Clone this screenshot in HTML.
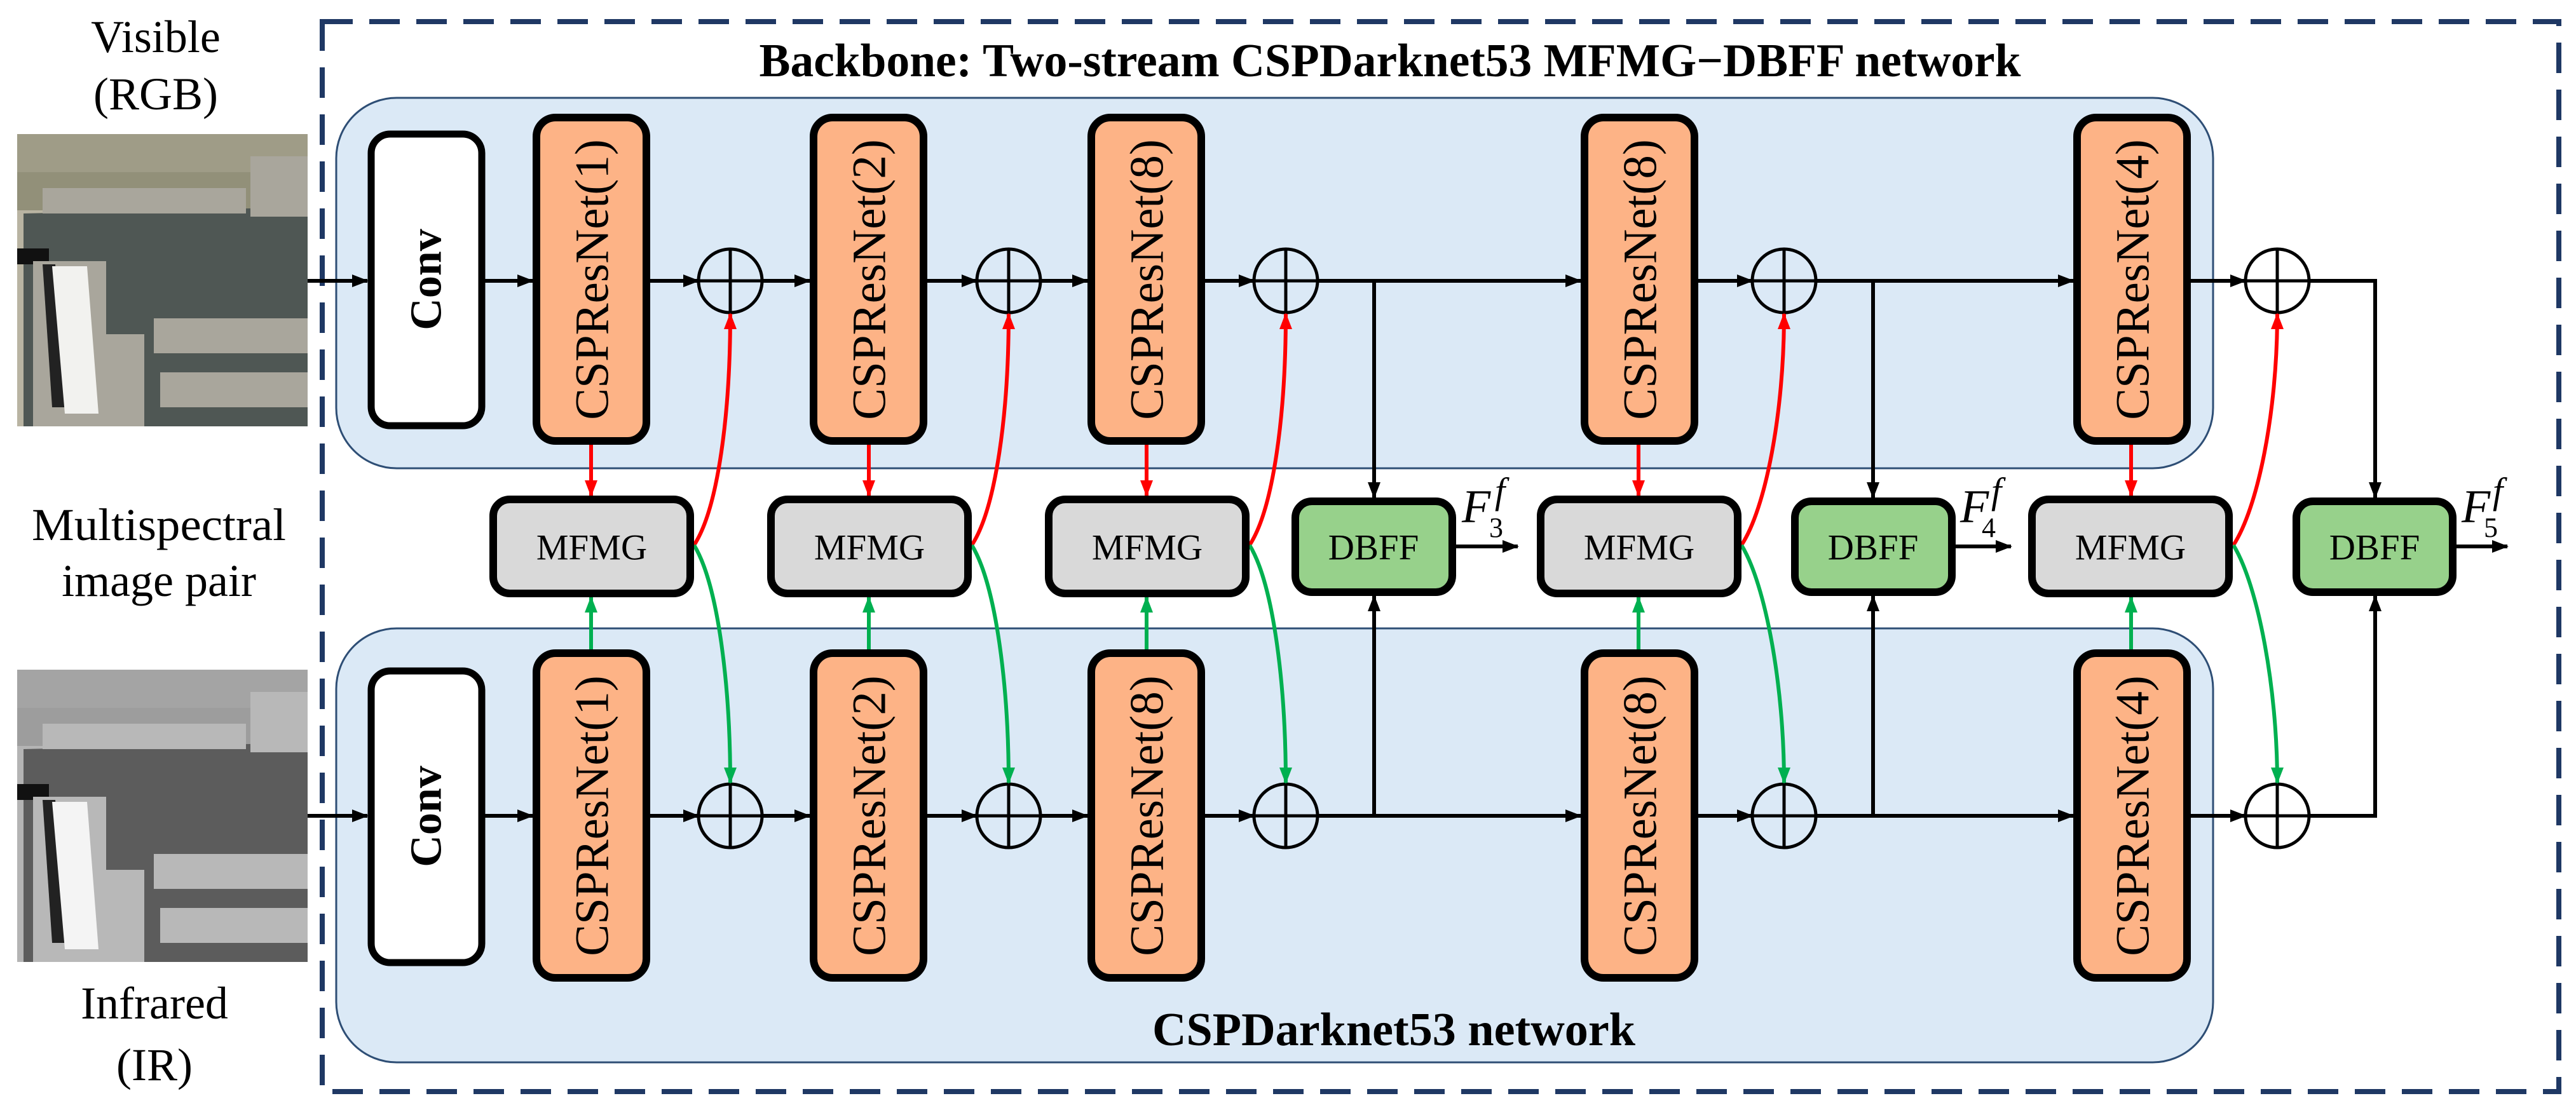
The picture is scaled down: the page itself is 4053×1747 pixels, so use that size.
<!DOCTYPE html>
<html><head><meta charset="utf-8"><style>html,body{margin:0;padding:0;background:#fff}svg{display:block}svg text{font-family:"Liberation Serif","DejaVu Serif",serif}</style></head>
<body>
<svg xmlns="http://www.w3.org/2000/svg" width="4053" height="1747" viewBox="0 0 4053 1747">
<defs>
<marker id="ak" markerUnits="userSpaceOnUse" markerWidth="26" markerHeight="24" refX="24" refY="12" orient="auto"><path d="M0,2 L26,12 L0,22 Z" fill="#000"/></marker>
<marker id="ar" markerUnits="userSpaceOnUse" markerWidth="26" markerHeight="24" refX="24" refY="12" orient="auto"><path d="M0,2 L26,12 L0,22 Z" fill="#ff0000"/></marker>
<marker id="ag" markerUnits="userSpaceOnUse" markerWidth="26" markerHeight="24" refX="24" refY="12" orient="auto"><path d="M0,2 L26,12 L0,22 Z" fill="#00b050"/></marker>
<g id="aerial">
<rect x="0" y="0" width="457" height="460" fill="var(--l)"/>
<rect x="0" y="0" width="457" height="60" fill="var(--v)" opacity="0.6"/>
<rect x="0" y="60" width="457" height="60" fill="var(--v)" opacity="0.9"/>
<polygon points="10,125 457,115 457,460 10,460" fill="var(--d)"/>
<rect x="367" y="35" width="90" height="95" fill="var(--s)"/>
<rect x="40" y="85" width="320" height="40" fill="var(--s)"/>
<rect x="0" y="180" width="50" height="25" fill="#111"/>
<rect x="25" y="200" width="115" height="260" fill="var(--s)"/>
<polygon points="40,205 60,205 75,430 55,430" fill="#222"/>
<polygon points="55,208 110,208 128,440 75,440" fill="var(--w)"/>
<rect x="130" y="315" width="70" height="145" fill="var(--s)"/>
<rect x="215" y="290" width="242" height="55" fill="var(--s)"/>
<rect x="225" y="375" width="232" height="55" fill="var(--s)"/>
</g>
</defs>

<g transform="translate(27,211)" style="--l:#b9b4a2;--v:#8e8c74;--d:#4f5754;--s:#a9a69c;--w:#f2f2ef"><use href="#aerial"/></g>
<g transform="translate(27,1054)" style="--l:#b4b4b4;--v:#9a9a9a;--d:#5c5c5c;--s:#b8b8b8;--w:#f4f4f4"><use href="#aerial"/></g>

<g font-size="72" text-anchor="middle" fill="#000">
<text x="245" y="82">Visible</text>
<text x="245" y="172">(RGB)</text>
<text x="250" y="850" textLength="400" lengthAdjust="spacingAndGlyphs">Multispectral</text>
<text x="250" y="938">image pair</text>
<text x="243" y="1603">Infrared</text>
<text x="243" y="1700">(IR)</text>
</g>

<rect x="507" y="34" width="3519" height="1684" fill="none" stroke="#1f3864" stroke-width="8" stroke-dasharray="48 26"/>

<rect x="529" y="154" width="2953" height="583" rx="95" fill="#dbe9f6" stroke="#2e4e75" stroke-width="3"/>
<rect x="529" y="989" width="2953" height="683" rx="95" fill="#dbe9f6" stroke="#2e4e75" stroke-width="3"/>

<text x="2187" y="120" font-size="74" font-weight="bold" text-anchor="middle" textLength="1985" lengthAdjust="spacingAndGlyphs">Backbone: Two-stream CSPDarknet53 MFMG−DBFF network</text>
<text x="2193" y="1645" font-size="74" font-weight="bold" text-anchor="middle" textLength="760" lengthAdjust="spacingAndGlyphs">CSPDarknet53 network</text>

<g stroke="#000" stroke-width="6" fill="none">
<line x1="484" y1="442" x2="578" y2="442" marker-end="url(#ak)"/>
<line x1="763" y1="442" x2="838" y2="442" marker-end="url(#ak)"/>
<line x1="1023" y1="442" x2="1099" y2="442" marker-end="url(#ak)"/>
<line x1="1199" y1="442" x2="1274" y2="442" marker-end="url(#ak)"/>
<line x1="1459" y1="442" x2="1537" y2="442" marker-end="url(#ak)"/>
<line x1="1637" y1="442" x2="1711" y2="442" marker-end="url(#ak)"/>
<line x1="1896" y1="442" x2="1973" y2="442" marker-end="url(#ak)"/>
<line x1="2073" y1="442" x2="2487" y2="442" marker-end="url(#ak)"/>
<line x1="2672" y1="442" x2="2757" y2="442" marker-end="url(#ak)"/>
<line x1="2857" y1="442" x2="3262" y2="442" marker-end="url(#ak)"/>
<line x1="3447" y1="442" x2="3533" y2="442" marker-end="url(#ak)"/>
<polyline points="3633,442 3737,442 3737,783" marker-end="url(#ak)"/>
<line x1="2162" y1="442" x2="2162" y2="783" marker-end="url(#ak)"/>
<line x1="2947" y1="442" x2="2947" y2="783" marker-end="url(#ak)"/>
<line x1="484" y1="1284" x2="578" y2="1284" marker-end="url(#ak)"/>
<line x1="763" y1="1284" x2="838" y2="1284" marker-end="url(#ak)"/>
<line x1="1023" y1="1284" x2="1099" y2="1284" marker-end="url(#ak)"/>
<line x1="1199" y1="1284" x2="1274" y2="1284" marker-end="url(#ak)"/>
<line x1="1459" y1="1284" x2="1537" y2="1284" marker-end="url(#ak)"/>
<line x1="1637" y1="1284" x2="1711" y2="1284" marker-end="url(#ak)"/>
<line x1="1896" y1="1284" x2="1973" y2="1284" marker-end="url(#ak)"/>
<line x1="2073" y1="1284" x2="2487" y2="1284" marker-end="url(#ak)"/>
<line x1="2672" y1="1284" x2="2757" y2="1284" marker-end="url(#ak)"/>
<line x1="2857" y1="1284" x2="3262" y2="1284" marker-end="url(#ak)"/>
<line x1="3447" y1="1284" x2="3533" y2="1284" marker-end="url(#ak)"/>
<polyline points="3633,1284 3737,1284 3737,938" marker-end="url(#ak)"/>
<polyline points="2073,1284 2162,1284 2162,938" marker-end="url(#ak)"/>
<polyline points="2857,1284 2947,1284 2947,938" marker-end="url(#ak)"/>
<line x1="2291" y1="860" x2="2388" y2="860" marker-end="url(#ak)"/>
<line x1="3075" y1="860" x2="3164" y2="860" marker-end="url(#ak)"/>
<line x1="3865" y1="860" x2="3945" y2="860" marker-end="url(#ak)"/>
</g>

<g stroke="#000" stroke-width="5" fill="none">
<g id="c"><circle cx="1149" cy="442" r="50"/><line x1="1149" y1="392" x2="1149" y2="492"/><line x1="1099" y1="442" x2="1199" y2="442"/></g>
<use href="#c" x="438"/><use href="#c" x="874"/><use href="#c" x="1658"/><use href="#c" x="2434"/>
<use href="#c" y="842"/><use href="#c" x="438" y="842"/><use href="#c" x="874" y="842"/><use href="#c" x="1658" y="842"/><use href="#c" x="2434" y="842"/>
</g>

<g fill="none" stroke-width="6">
<g stroke="#ff0000">
<line x1="930" y1="700" x2="930" y2="780" marker-end="url(#ar)"/>
<line x1="1367" y1="700" x2="1367" y2="780" marker-end="url(#ar)"/>
<line x1="1804" y1="700" x2="1804" y2="780" marker-end="url(#ar)"/>
<line x1="2578" y1="700" x2="2578" y2="780" marker-end="url(#ar)"/>
<line x1="3353" y1="700" x2="3353" y2="780" marker-end="url(#ar)"/>
<path d="M1092,858 C1130,800 1149,650 1149,494" marker-end="url(#ar)"/>
<path d="M1529,858 C1567,800 1587,650 1587,494" marker-end="url(#ar)"/>
<path d="M1966,858 C2004,800 2023,650 2023,494" marker-end="url(#ar)"/>
<path d="M2740,858 C2778,800 2807,650 2807,494" marker-end="url(#ar)"/>
<path d="M3514,858 C3552,800 3583,650 3583,494" marker-end="url(#ar)"/>
</g>
<g stroke="#00b050">
<line x1="930" y1="1022" x2="930" y2="940" marker-end="url(#ag)"/>
<line x1="1367" y1="1022" x2="1367" y2="940" marker-end="url(#ag)"/>
<line x1="1804" y1="1022" x2="1804" y2="940" marker-end="url(#ag)"/>
<line x1="2578" y1="1022" x2="2578" y2="940" marker-end="url(#ag)"/>
<line x1="3353" y1="1022" x2="3353" y2="940" marker-end="url(#ag)"/>
<path d="M1092,858 C1130,920 1149,1080 1149,1232" marker-end="url(#ag)"/>
<path d="M1529,858 C1567,920 1587,1080 1587,1232" marker-end="url(#ag)"/>
<path d="M1966,858 C2004,920 2023,1080 2023,1232" marker-end="url(#ag)"/>
<path d="M2740,858 C2778,920 2807,1080 2807,1232" marker-end="url(#ag)"/>
<path d="M3514,858 C3552,920 3583,1080 3583,1232" marker-end="url(#ag)"/>
</g>
</g>

<g stroke="#000" stroke-width="11" fill="#fff">
<rect x="584" y="211" width="174" height="459" rx="30"/>
<rect x="584" y="1056" width="174" height="459" rx="30"/>
</g>
<g font-size="70" font-weight="bold" text-anchor="middle" dominant-baseline="central">
<text transform="translate(671,440) rotate(-90)">Conv</text>
<text transform="translate(671,1285) rotate(-90)">Conv</text>
</g>

<g stroke="#000" stroke-width="12" fill="#fdb386">
<rect x="844" y="185" width="173" height="509" rx="30"/>
<rect x="1280" y="185" width="173" height="509" rx="30"/>
<rect x="1717" y="185" width="173" height="509" rx="30"/>
<rect x="2493" y="185" width="173" height="509" rx="30"/>
<rect x="3268" y="185" width="173" height="509" rx="30"/>
<rect x="844" y="1028" width="173" height="511" rx="30"/>
<rect x="1280" y="1028" width="173" height="511" rx="30"/>
<rect x="1717" y="1028" width="173" height="511" rx="30"/>
<rect x="2493" y="1028" width="173" height="511" rx="30"/>
<rect x="3268" y="1028" width="173" height="511" rx="30"/>
</g>
<g font-size="75" text-anchor="middle" dominant-baseline="central">
<text transform="translate(932,440) rotate(-90)">CSPResNet(1)</text>
<text transform="translate(1368,440) rotate(-90)">CSPResNet(2)</text>
<text transform="translate(1805,440) rotate(-90)">CSPResNet(8)</text>
<text transform="translate(2581,440) rotate(-90)">CSPResNet(8)</text>
<text transform="translate(3356,440) rotate(-90)">CSPResNet(4)</text>
<text transform="translate(932,1284) rotate(-90)">CSPResNet(1)</text>
<text transform="translate(1368,1284) rotate(-90)">CSPResNet(2)</text>
<text transform="translate(1805,1284) rotate(-90)">CSPResNet(8)</text>
<text transform="translate(2581,1284) rotate(-90)">CSPResNet(8)</text>
<text transform="translate(3356,1284) rotate(-90)">CSPResNet(4)</text>
</g>

<g stroke="#000" stroke-width="12" fill="#d9d9d9">
<rect x="776" y="786" width="310" height="148" rx="26"/>
<rect x="1213" y="786" width="310" height="148" rx="26"/>
<rect x="1650" y="786" width="310" height="148" rx="26"/>
<rect x="2424" y="786" width="310" height="148" rx="26"/>
<rect x="3197" y="786" width="310" height="148" rx="26"/>
</g>
<g fill="#97d18b" stroke="#000" stroke-width="12">
<rect x="2038" y="789" width="247" height="143" rx="26"/>
<rect x="2824" y="789" width="247" height="143" rx="26"/>
<rect x="3613" y="789" width="246" height="143" rx="26"/>
</g>
<g font-size="57" text-anchor="middle" dominant-baseline="central">
<text x="931" y="862">MFMG</text>
<text x="1368" y="862">MFMG</text>
<text x="1805" y="862">MFMG</text>
<text x="2579" y="862">MFMG</text>
<text x="3352" y="862">MFMG</text>
<text x="2161" y="862">DBFF</text>
<text x="2947" y="862">DBFF</text>
<text x="3736" y="862">DBFF</text>
</g>

<g font-style="italic">
<text x="2300" y="822" font-size="74">F</text><text x="2343" y="845" font-size="44" font-style="normal">3</text><text x="2352" y="792" font-size="58">f</text>
<text x="3084" y="822" font-size="74">F</text><text x="3118" y="845" font-size="44" font-style="normal">4</text><text x="3133" y="792" font-size="58">f</text>
<text x="3873" y="822" font-size="74">F</text><text x="3908" y="845" font-size="44" font-style="normal">5</text><text x="3922" y="792" font-size="58">f</text>
</g>
</svg>
</body></html>
